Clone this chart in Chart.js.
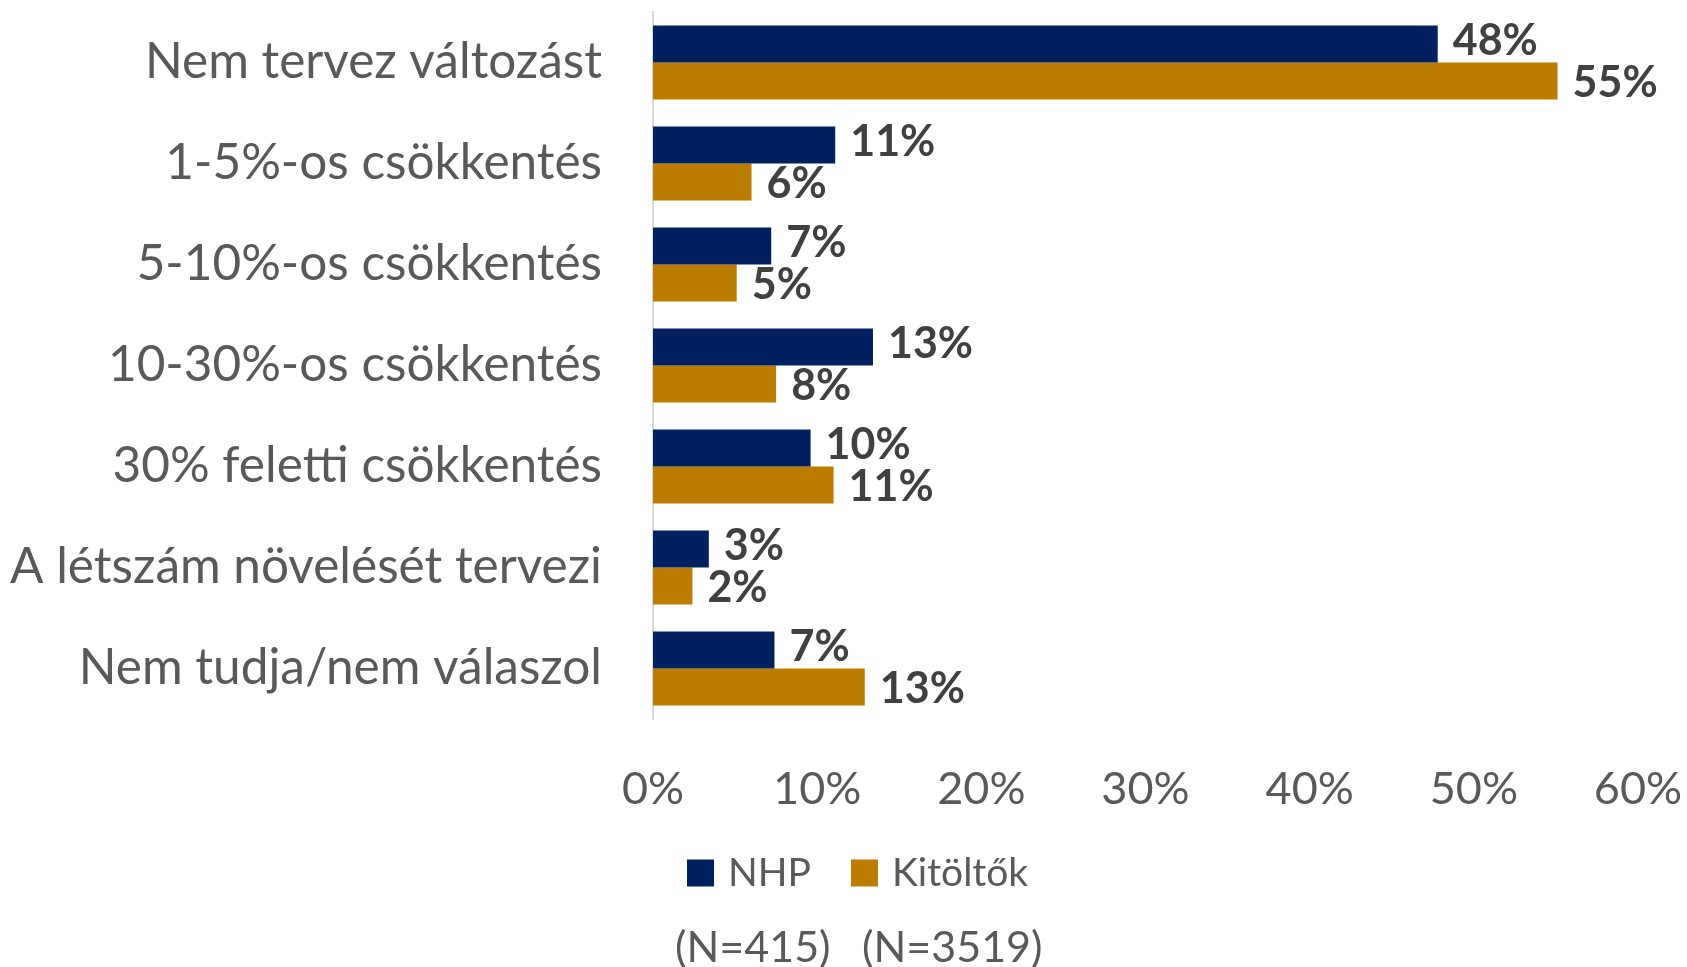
<!DOCTYPE html>
<html>
<head>
<meta charset="utf-8">
<script src="https://cdn.jsdelivr.net/npm/chart.js@4/dist/chart.umd.min.js"></script>
<style>
  html, body { margin: 0; padding: 0; background: #fff; }
  #wrap { width: 1687px; height: 967px; }
</style>
</head>
<body>
<div id="wrap"><canvas id="chart"></canvas></div>
<script>
const categories = [
  'Nem tervez változást',
  '1-5%-os csökkentés',
  '5-10%-os csökkentés',
  '10-30%-os csökkentés',
  '30% feletti csökkentés',
  'A létszám növelését tervezi',
  'Nem tudja/nem válaszol'
]
const nhpValues = [47.8, 11.1, 7.2, 13.4, 9.6, 3.4, 7.4]
const kitoltokValues = [55.1, 6.0, 5.1, 7.5, 11.0, 2.4, 12.9]
const seriesNames = ['NHP', 'Kitöltők']
const sampleSizes = ['(N=415)', '(N=3519)']

const FONT = 'Lato'
const textGrey = '#595959'

// value labels next to each bar
const barLabels = {
  id: 'barLabels',
  afterDatasetsDraw(chart) {
    const ctx = chart.ctx
    ctx.save()
    ctx.font = `bold 43px ${FONT}`
    ctx.fillStyle = '#404040'
    ctx.textAlign = 'left'
    ctx.textBaseline = 'middle'
    chart.data.datasets.forEach((ds, i) => {
      const meta = chart.getDatasetMeta(i)
      const shift = i === 0 ? -3 : 2
      meta.data.forEach((bar, j) => {
        ctx.fillText(Math.round(ds.data[j]) + '%', bar.x + 15, bar.y + shift)
      })
    })
    ctx.restore()
  }
}

// legend + sample sizes under the axis
const legendBlock = {
  id: 'legendBlock',
  afterDraw(chart) {
    const ctx = chart.ctx
    ctx.save()
    ctx.font = `39px ${FONT}`
    ctx.textBaseline = 'middle'
    let x = 687
    const y = 873
    chart.data.datasets.forEach(ds => {
      ctx.fillStyle = ds.backgroundColor
      ctx.fillRect(x, y - 13.5, 27, 27)
      x += 27 + 14
      ctx.fillStyle = textGrey
      ctx.fillText(ds.label, x, y)
      x += ctx.measureText(ds.label).width + 40
    })
    ctx.font = `43px ${FONT}`
    ctx.fillText(sampleSizes[0], 675, 948)
    ctx.fillText(sampleSizes[1], 862, 948)
    ctx.restore()
  }
}

const chart = document.getElementById('chart')
new Chart(chart, {
  type: 'bar',
  data: {
    labels: categories,
    datasets: [
      { label: seriesNames[0], data: nhpValues, backgroundColor: '#002060' },
      { label: seriesNames[1], data: kitoltokValues, backgroundColor: '#bb7c00' }
    ]
  },
  options: {
    indexAxis: 'y',
    responsive: true,
    maintainAspectRatio: false,
    animation: false,
    datasets: {
      bar: { barPercentage: 1, categoryPercentage: 0.732 }
    },
    layout: { padding: { top: 12, right: 49, bottom: 0, left: 0 } },
    plugins: {
      legend: { display: false },
      tooltip: { enabled: false }
    },
    scales: {
      x: {
        min: 0,
        max: 60,
        grid: { display: false, drawTicks: false },
        border: { display: false },
        ticks: {
          stepSize: 10,
          padding: 43,
          color: textGrey,
          font: { family: FONT, size: 45 },
          callback: v => v + '%'
        },
        afterFit(scale) {
          scale.height = 248
          scale.paddingLeft = 0
          scale.paddingRight = 0
        }
      },
      y: {
        grid: { display: false, drawTicks: false },
        border: { display: true, color: '#d9d9d9', width: 2 },
        ticks: {
          padding: 51,
          color: textGrey,
          font: { family: FONT, size: 49.5 }
        },
        afterFit(scale) {
          scale.width = 653
          scale.paddingTop = 0
          scale.paddingBottom = 0
        }
      }
    }
  },
  plugins: [barLabels, legendBlock]
})
</script>
</body>
</html>
